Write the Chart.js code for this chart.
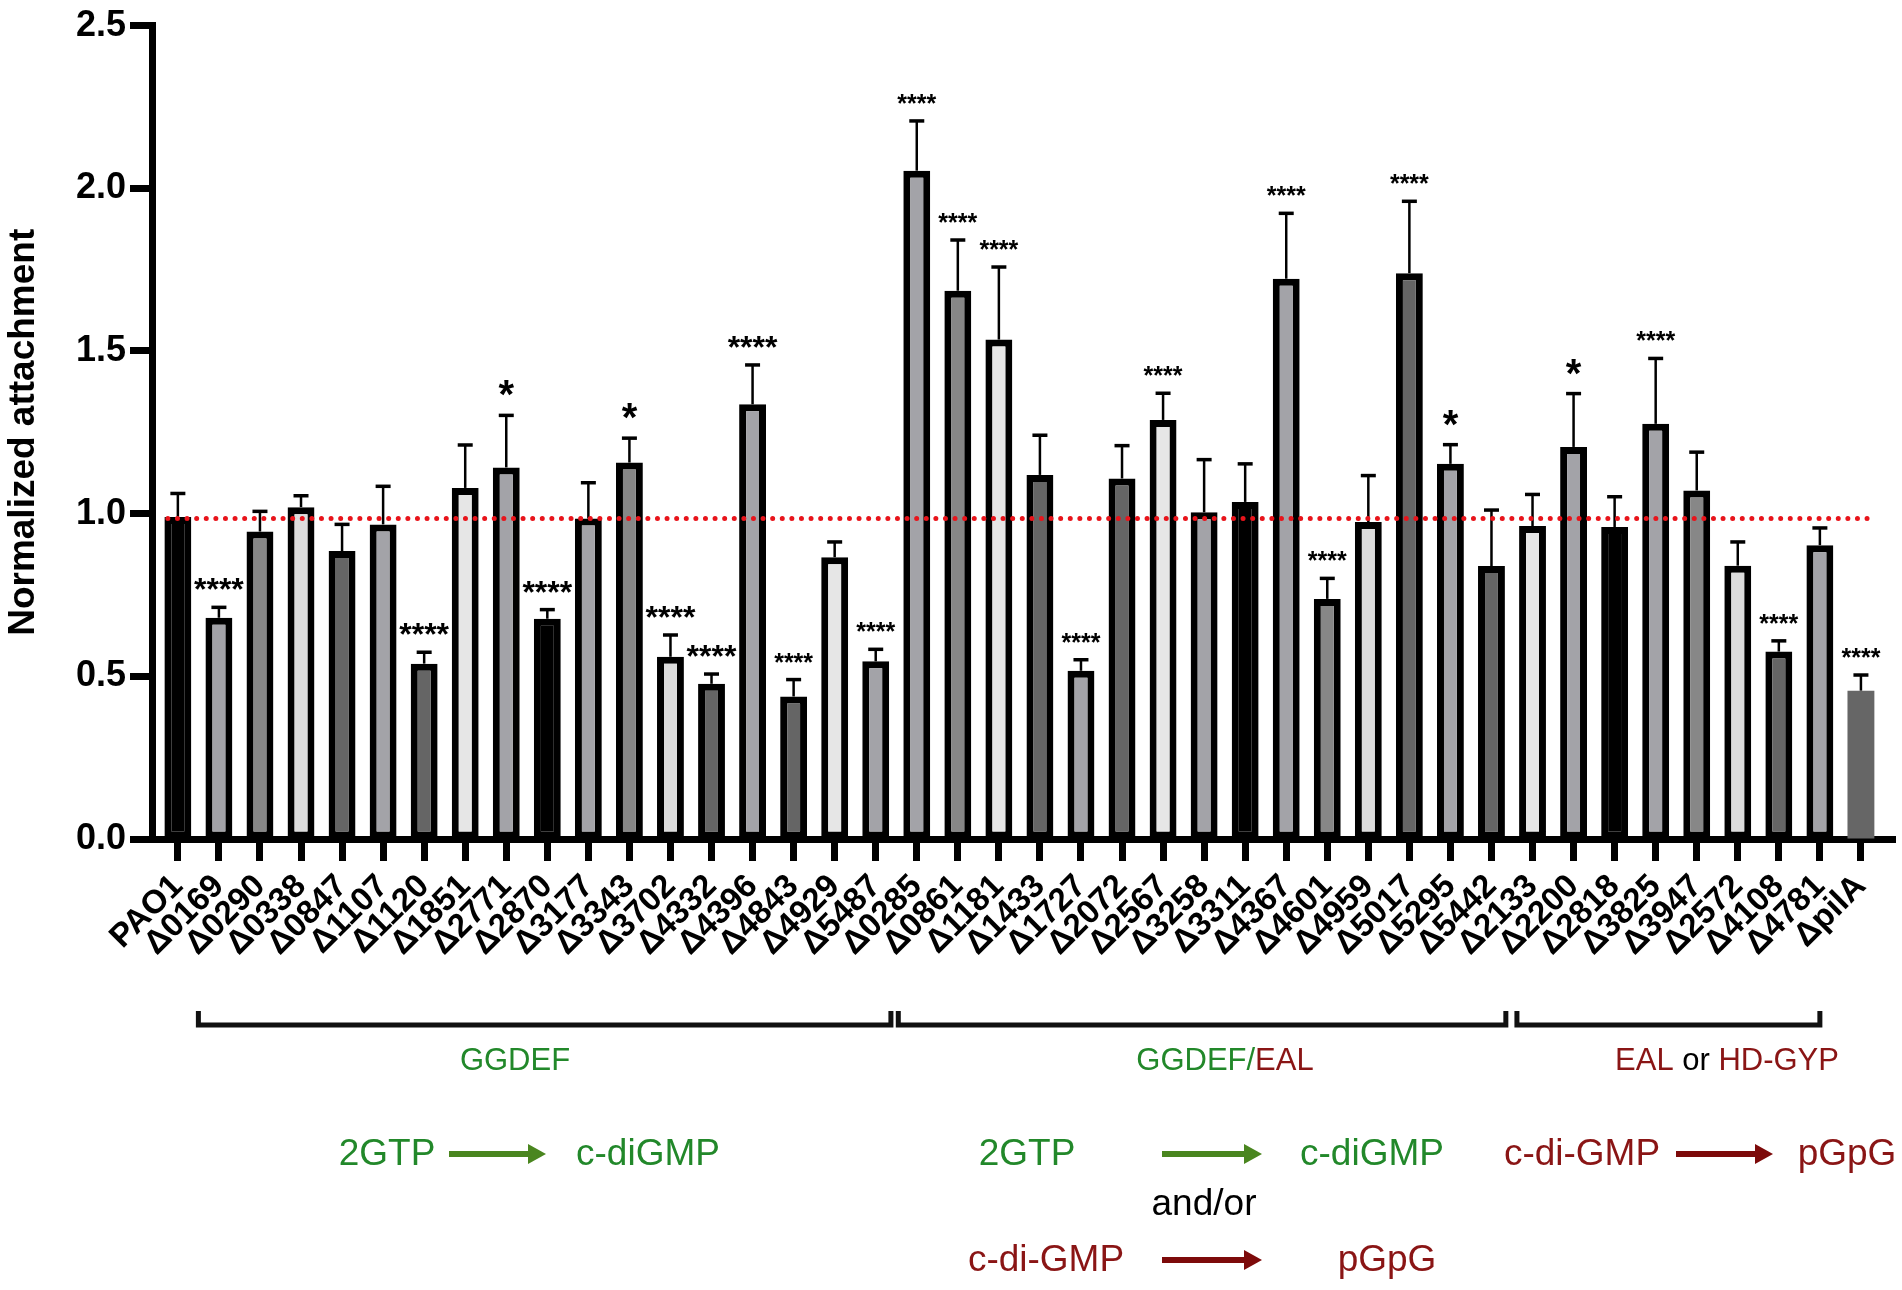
<!DOCTYPE html>
<html><head><meta charset="utf-8">
<script src="https://cdn.jsdelivr.net/npm/chart.js@4.4.1/dist/chart.umd.min.js"></script>
<style>html,body{margin:0;padding:0;background:#fff;}#wrap{width:1902px;height:1290px;position:relative;}</style>
</head><body><div id="wrap"><canvas id="c"></canvas></div>
<script>
const categories = ['PAO1','Δ0169','Δ0290','Δ0338','Δ0847','Δ1107','Δ1120','Δ1851','Δ2771','Δ2870','Δ3177','Δ3343','Δ3702','Δ4332','Δ4396','Δ4843','Δ4929','Δ5487',
  'Δ0285','Δ0861','Δ1181','Δ1433','Δ1727','Δ2072','Δ2567','Δ3258','Δ3311','Δ4367','Δ4601','Δ4959','Δ5017','Δ5295','Δ5442',
  'Δ2133','Δ2200','Δ2818','Δ3825','Δ3947','Δ2572','Δ4108','Δ4781','ΔpilA'];
const means = [0.99,0.68,0.945,1.02,0.885,0.967,0.539,1.079,1.142,0.677,0.985,1.157,0.56,0.477,1.336,0.438,0.866,0.546,
  2.054,1.685,1.535,1.119,0.517,1.108,1.288,1.004,1.036,1.722,0.738,0.974,1.739,1.153,0.839,
  0.962,1.205,0.959,1.276,1.071,0.84,0.576,0.903,0.456];
const errorsUp = [0.072,0.032,0.062,0.035,0.082,0.117,0.035,0.132,0.16,0.028,0.11,0.075,0.067,0.03,0.121,0.052,0.047,0.037,
  0.153,0.156,0.223,0.122,0.034,0.101,0.082,0.162,0.117,0.201,0.063,0.143,0.221,0.059,0.172,
  0.097,0.164,0.093,0.201,0.118,0.073,0.033,0.053,0.048];
const significance = ['','****','','','','','****','','*','****','','*','****','****','****','****','','****',
  '****','****','****','','****','','****','','','****','****','','****','*','',
  '','*','','****','','','****','','****'];
const referenceLevel = 0.985;
const yTicks = [0,0.5,1.0,1.5,2.0,2.5];

// styles
const K='#000000', M='#a3a3a8', G='#878787', L='#dcdcdc', W='#e6e6e6', D='#656565';
const barFills = [K,M,G,L,D,M,D,W,M,K,M,G,L,D,M,D,W,M, M,G,W,D,M,D,W,M,K,M,G,L,D,M,D, W,M,K,M,G,L,D,M,'#666666'];
const barBorders = barFills.map((c,i)=> i===41 ? 0 : 7);
const bigStars = new Set([1,6,8,9,11,12,13,14,31,34]);
const GREEN='#22882a', GREEN_ARROW='#4a861f', RED='#8a1515', RED_ARROW='#7d0a0a';

const overlay = {
  id:'overlay',
  afterDatasetsDraw(chart){
    const ctx=chart.ctx, xs=chart.scales.x, ys=chart.scales.y;
    ctx.save();
    ctx.strokeStyle='#000';
    means.forEach((m,i)=>{
      const cx=xs.getPixelForValue(i), yt=ys.getPixelForValue(m), yc=ys.getPixelForValue(m+errorsUp[i]);
      ctx.lineWidth=2.5; ctx.beginPath(); ctx.moveTo(cx,yt); ctx.lineTo(cx,yc); ctx.stroke();
      ctx.lineWidth=3.5; ctx.beginPath(); ctx.moveTo(cx-7.5,yc); ctx.lineTo(cx+7.5,yc); ctx.stroke();
    });
    // reference dotted line
    const ry=ys.getPixelForValue(referenceLevel);
    ctx.strokeStyle='#e8141b'; ctx.lineWidth=5; ctx.lineCap='round'; ctx.setLineDash([0,9.6]);
    ctx.beginPath(); ctx.moveTo(xs.getPixelForValue(0)-10,ry); ctx.lineTo(xs.getPixelForValue(41)+10,ry); ctx.stroke();
    ctx.setLineDash([]);
    // stars
    ctx.fillStyle='#000'; ctx.textAlign='center'; ctx.textBaseline='alphabetic';
    significance.forEach((s,i)=>{
      if(!s) return;
      const cx=xs.getPixelForValue(i), yc=ys.getPixelForValue(means[i]+errorsUp[i]);
      const big = bigStars.has(i);
      let size = s==='*' ? 40 : (big ? 32 : 25);
      ctx.font='bold '+size+'px "Liberation Sans", Arial, sans-serif';
      ctx.fillText(s,cx,yc-(big?7:9));
    });
    ctx.restore();
  },
  afterDraw(chart){
    const ctx=chart.ctx, xs=chart.scales.x;
    ctx.save();
    // brackets
    const groups=[[0.5,17.37],[17.55,32.35],[32.62,40]];
    ctx.strokeStyle='#111'; ctx.lineWidth=5; ctx.lineJoin='miter';
    groups.forEach(([a,b])=>{
      const x1=xs.getPixelForValue(a), x2=xs.getPixelForValue(b);
      ctx.beginPath(); ctx.moveTo(x1,1011); ctx.lineTo(x1,1025); ctx.lineTo(x2,1025); ctx.lineTo(x2,1011); ctx.stroke();
    });
    function multi(parts, cx, y, font){
      ctx.font=font; ctx.textBaseline='alphabetic'; ctx.textAlign='left';
      const total=parts.reduce((s,p)=>s+ctx.measureText(p[0]).width,0);
      let x=cx-total/2;
      parts.forEach(([t,c])=>{ctx.fillStyle=c; ctx.fillText(t,x,y); x+=ctx.measureText(t).width;});
    }
    const f31='31px "Liberation Sans", Arial, sans-serif', f37='37px "Liberation Sans", Arial, sans-serif';
    multi([['GGDEF',GREEN]],515,1070,f31);
    multi([['GGDEF/',GREEN],['EAL',RED]],1225,1070,f31);
    multi([['EAL',RED],[' or ','#000'],['HD-GYP',RED]],1727,1070,f31);
    function arrow(x1,x2,y,c){
      ctx.strokeStyle=c; ctx.fillStyle=c; ctx.lineWidth=6; ctx.lineCap='butt';
      ctx.beginPath(); ctx.moveTo(x1,y); ctx.lineTo(x2-14,y); ctx.stroke();
      ctx.beginPath(); ctx.moveTo(x2-18,y-10); ctx.lineTo(x2,y); ctx.lineTo(x2-18,y+10); ctx.closePath(); ctx.fill();
    }
    multi([['2GTP',GREEN]],387,1165,f37); arrow(449,546,1154,GREEN_ARROW); multi([['c-diGMP',GREEN]],648,1165,f37);
    multi([['2GTP',GREEN]],1027,1165,f37); arrow(1162,1262,1154,GREEN_ARROW); multi([['c-diGMP',GREEN]],1372,1165,f37);
    multi([['c-di-GMP',RED]],1582,1165,f37); arrow(1676,1773,1154,RED_ARROW); multi([['pGpG',RED]],1847,1165,f37);
    multi([['and/or','#000']],1204,1215,f37);
    multi([['c-di-GMP',RED]],1046,1271,f37); arrow(1162,1262,1260,RED_ARROW); multi([['pGpG',RED]],1387,1271,f37);
    ctx.restore();
  }
};

new Chart(document.getElementById('c'),{
  type:'bar',
  data:{datasets:[{
    data: means.map((v,i)=>({x:i,y:v})),
    backgroundColor: barFills,
    borderColor:'#000',
    borderWidth: barBorders,
    borderSkipped:false,
    categoryPercentage:1,
    barPercentage:0.655
  }]},
  options:{
    responsive:true, maintainAspectRatio:false, animation:false,
    devicePixelRatio:1,
    layout:{padding:{top:25,right:7,bottom:0,left:0}},
    plugins:{legend:{display:false},tooltip:{enabled:false}},
    scales:{
      x:{
        type:'linear', min:-0.63, max:41.83, offset:false,
        afterBuildTicks:(s)=>{s.ticks=categories.map((_,i)=>({value:i}));},
        afterFit:(s)=>{s.height=451; s.paddingLeft=0; s.paddingRight=0;},
        grid:{display:true, drawOnChartArea:false, drawTicks:true, tickLength:22, tickWidth:7, tickColor:'#000', offset:false},
        border:{display:true, width:7, color:'#000'},
        ticks:{autoSkip:false, maxRotation:45, minRotation:45, padding:6, color:'#000',
          font:{family:'"Liberation Sans", Arial, sans-serif', size:33, weight:'bold'},
          callback:(v)=>categories[v]}
      },
      y:{
        min:0, max:2.5,
        afterBuildTicks:(s)=>{s.ticks=yTicks.map(v=>({value:v}));},
        afterFit:(s)=>{s.width=152;},
        grid:{display:true, drawOnChartArea:false, drawTicks:true, tickLength:22, tickWidth:7, tickColor:'#000'},
        border:{display:true, width:7, color:'#000'},
        ticks:{padding:4, color:'#000', font:{family:'"Liberation Sans", Arial, sans-serif', size:36, weight:'bold'},
          callback:(v)=>Number(v).toFixed(1)},
        title:{display:true, text:'Normalized attachment', color:'#000', padding:{top:2,bottom:0},
          font:{family:'"Liberation Sans", Arial, sans-serif', size:37, weight:'bold'}}
      }
    }
  },
  plugins:[overlay]
});
</script></body></html>
